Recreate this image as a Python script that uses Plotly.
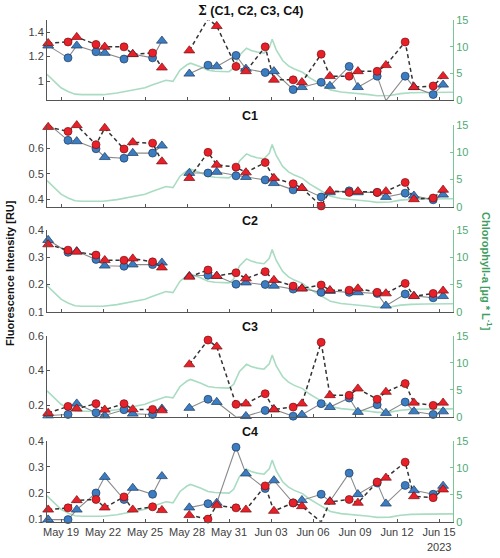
import plotly.graph_objects as go

# ---------------- data ----------------
sample_times = [
    "2023-05-18 02:00", "2023-05-19 12:00", "2023-05-20 03:00", "2023-05-21 12:00",
    "2023-05-22 03:00", "2023-05-23 12:00", "2023-05-24 03:00", "2023-05-25 13:00",
    "2023-05-26 05:00",
    "2023-05-28 04:00", "2023-05-29 12:00", "2023-05-30 03:00", "2023-05-31 12:00",
    "2023-06-01 05:00", "2023-06-02 14:00", "2023-06-03 05:00", "2023-06-04 14:00",
    "2023-06-05 05:00", "2023-06-06 14:00", "2023-06-07 05:00", "2023-06-08 14:00",
    "2023-06-09 05:00", "2023-06-10 14:00", "2023-06-11 05:00", "2023-06-12 14:00",
    "2023-06-13 05:00", "2023-06-14 14:00", "2023-06-15 07:00",
]
# T = triangle sample, C = circle sample
sample_type = ["T", "C", "T", "C", "T", "C", "T", "C", "T",
               "T", "C", "T", "C", "T", "C", "T", "C", "T", "C",
               "T", "C", "T", "C", "T", "C", "T", "C", "T"]
gap_after = 8  # no line between sample 8 and 9

titles = ["<span style='font-family:DejaVu Serif, Liberation Serif, serif'>\u03a3</span> (C1, C2, C3, C4)",
          "C1", "C2", "C3", "C4"]

red_sum = [1.31, 1.32, 1.36, 1.30, 1.28, 1.28, 1.22, 1.23, 1.11,
           1.25, 1.51, 1.45, 1.12, 1.08, 1.28, 1.01, 1.01, 0.99, 1.22,
           1.04, 1.04, 1.08, 1.08, 1.13, 1.32, 0.95, 0.96, 1.04]
blue_sum = [1.29, 1.19, 1.29, 1.24, 1.23, 1.18, 1.22, 1.19, 1.33,
            1.06, 1.13, 1.12, 1.21, 1.10, 1.07, 1.08, 0.93, 0.95, 0.99,
            0.96, 1.12, 0.95, 1.04, 0.84, 1.04, 0.95, 0.89, 0.97]

red_c1 = [0.683, 0.666, 0.690, 0.614, 0.679, 0.597, 0.623, 0.620, 0.548,
          0.483, 0.584, 0.535, 0.526, 0.505, 0.544, 0.483, 0.461, 0.444, 0.374,
          0.433, 0.427, 0.431, 0.427, 0.431, 0.466, 0.400, 0.405, 0.437]
blue_c1 = [0.696, 0.631, 0.627, 0.598, 0.565, 0.561, 0.581, 0.581, 0.610,
           0.503, 0.503, 0.507, 0.492, 0.487, 0.476, 0.463, 0.437, 0.444, 0.409,
           0.427, 0.433, 0.427, 0.427, 0.409, 0.424, 0.414, 0.398, 0.418]

red_c2 = [0.347, 0.326, 0.320, 0.308, 0.289, 0.289, 0.295, 0.283, 0.262,
          0.228, 0.253, 0.231, 0.243, 0.222, 0.247, 0.216, 0.194, 0.185, 0.198,
          0.179, 0.179, 0.185, 0.171, 0.167, 0.204, 0.157, 0.167, 0.177]
blue_c2 = [0.363, 0.318, 0.322, 0.292, 0.269, 0.267, 0.273, 0.273, 0.280,
           0.231, 0.234, 0.231, 0.201, 0.207, 0.200, 0.195, 0.183, 0.185, 0.171,
           0.176, 0.171, 0.171, 0.167, 0.122, 0.165, 0.158, 0.151, 0.157]

red_c3 = [0.156, 0.194, 0.181, 0.210, 0.175, 0.210, 0.177, 0.177, 0.171,
          0.435, 0.575, 0.537, 0.206, 0.210, 0.267, 0.177, 0.190, 0.210, 0.562,
          0.258, 0.258, 0.296, 0.235, 0.277, 0.325, 0.215, 0.200, 0.215]
blue_c3 = [0.142, 0.148, 0.210, 0.158, 0.142, 0.175, 0.152, 0.148, 0.181,
           0.185, 0.235, 0.219, 0.133, 0.138, 0.171, 0.177, 0.138, 0.146, 0.210,
           0.190, 0.242, 0.162, 0.204, 0.156, 0.219, 0.165, 0.148, 0.165]

red_c4 = [0.136, 0.143, 0.172, 0.175, 0.144, 0.185, 0.136, 0.147, 0.134,
          0.115, 0.100, 0.153, 0.143, 0.136, 0.227, 0.131, 0.162, 0.149, 0.089,
          0.166, 0.175, 0.162, 0.242, 0.258, 0.318, 0.187, 0.182, 0.213]
blue_c4 = [0.098, 0.098, 0.136, 0.200, 0.261, 0.175, 0.219, 0.195, 0.264,
           0.144, 0.159, 0.162, 0.375, 0.274, 0.217, 0.248, 0.162, 0.172, 0.195,
           0.168, 0.276, 0.195, 0.238, 0.159, 0.229, 0.210, 0.195, 0.227]

red_series = [red_sum, red_c1, red_c2, red_c3, red_c4]
blue_series = [blue_sum, blue_c1, blue_c2, blue_c3, blue_c4]

chl_times = [
    "2023-05-18 00:00", "2023-05-18 12:00", "2023-05-19 00:00", "2023-05-19 12:00",
    "2023-05-20 00:00", "2023-05-20 12:00", "2023-05-21 00:00", "2023-05-22 00:00",
    "2023-05-23 00:00", "2023-05-24 00:00", "2023-05-25 00:00", "2023-05-25 12:00",
    "2023-05-26 00:00", "2023-05-26 12:00", "2023-05-27 00:00", "2023-05-27 12:00",
    "2023-05-28 00:00", "2023-05-28 06:00", "2023-05-29 00:00", "2023-05-29 12:00",
    "2023-05-30 00:00", "2023-05-30 12:00", "2023-05-31 00:00", "2023-05-31 08:00",
    "2023-05-31 18:00", "2023-06-01 06:00", "2023-06-01 14:00", "2023-06-02 00:00",
    "2023-06-02 12:00", "2023-06-02 21:00", "2023-06-03 02:00", "2023-06-03 09:00",
    "2023-06-03 20:00", "2023-06-04 06:00", "2023-06-04 16:00", "2023-06-05 06:00",
    "2023-06-05 18:00", "2023-06-06 08:00", "2023-06-06 20:00", "2023-06-07 06:00",
    "2023-06-08 00:00", "2023-06-09 00:00", "2023-06-10 00:00", "2023-06-10 14:00",
    "2023-06-11 12:00", "2023-06-12 06:00", "2023-06-13 00:00", "2023-06-14 00:00",
    "2023-06-15 00:00", "2023-06-16 00:00",
]
chl_values = [
    4.8, 3.5, 2.3, 1.6,
    1.1, 1.0, 1.0, 1.0,
    1.3, 1.8, 2.3, 2.8,
    3.2, 3.7, 3.5, 5.6,
    6.6, 6.9, 6.2, 5.6,
    5.4, 5.3, 5.3, 6.0,
    8.4, 9.7, 9.3, 9.0,
    8.8, 9.8, 11.4, 9.4,
    7.4, 6.4, 5.8, 5.2,
    4.2, 3.3, 2.5, 1.9,
    1.5, 1.3, 1.0, 0.8,
    0.85, 1.2, 1.35, 1.4,
    1.45, 1.45,
]

flu_ranges = [[0.845, 1.5], [0.371, 0.691], [0.1, 0.4], [0.135, 0.6], [0.09, 0.4]]
flu_ticks = [[1, 1.2, 1.4], [0.4, 0.5, 0.6], [0.1, 0.2, 0.3, 0.4], [0.2, 0.4, 0.6],
             [0.1, 0.2, 0.3, 0.4]]
flu_ticktext = [["1", "1.2", "1.4"], ["0.4", "0.5", "0.6"], ["0.1", "0.2", "0.3", "0.4"],
                ["0.2", "0.4", "0.6"], ["0.1", "0.2", "0.3", "0.4"]]
chl_ticks = [0, 5, 10, 15]
x_ticks = ["2023-05-19", "2023-05-22", "2023-05-25", "2023-05-28", "2023-05-31",
           "2023-06-03", "2023-06-06", "2023-06-09", "2023-06-12", "2023-06-15"]
x_range = ["2023-05-18 00:00", "2023-06-16 00:00"]

# ---------------- styling ----------------
FONT = "Liberation Sans, Arial, sans-serif"
TXT = "#404040"
AX = "#555555"
GREEN_LINE = "#a9dcc2"
GREEN_AX = "#7cc49a"
GREEN_TXT = "#4faa72"
RED = "#e8202a"
RED_EDGE = "#7a1010"
BLUE = "#3b7dc0"
BLUE_EDGE = "#1c3a60"

W, H = 500, 558
ML, MR, MT, MB = 47, 47, 20, 36
plot_h = H - MT - MB
panel_px = [(20, 100), (125, 206.7), (230, 311.7), (335.7, 416.7), (440.7, 521.7)]


def dom(top, bot):
    b = H - MB
    return [max(0.0, (b - bot) / plot_h), min(1.0, (b - top) / plot_h)]


def ax_name(kind, i):
    return kind if i == 1 else f"{kind}{i}"


def with_gap(vals):
    out = list(vals[:gap_after + 1]) + [None] + list(vals[gap_after + 1:])
    return out


gap_time = "2023-05-27 00:00"
line_times = sample_times[:gap_after + 1] + [gap_time] + sample_times[gap_after + 1:]

fig = go.Figure()
layout = {}
annotations = []

for p in range(5):
    xi = p + 1
    yc = 2 * p + 1  # chlorophyll axis (primary, right side)
    yf = 2 * p + 2  # fluorescence axis (overlaying, left side)
    xa, yca, yfa = ax_name("x", xi), ax_name("y", yc), ax_name("y", yf)

    # chlorophyll line
    fig.add_trace(go.Scatter(x=chl_times, y=chl_values, mode="lines",
                             line=dict(color=GREEN_LINE, width=1.6),
                             xaxis=xa, yaxis=yca, showlegend=False, hoverinfo="skip"))

    red = red_series[p]
    blue = blue_series[p]
    # connecting lines
    fig.add_trace(go.Scatter(x=line_times, y=with_gap(blue), mode="lines",
                             line=dict(color="#8a8a8a", width=1.1),
                             connectgaps=False, xaxis=xa, yaxis=yfa, showlegend=False,
                             cliponaxis=False))
    fig.add_trace(go.Scatter(x=line_times, y=with_gap(red), mode="lines",
                             line=dict(color="#333333", width=1.5, dash="4px,3px"),
                             connectgaps=False, xaxis=xa, yaxis=yfa, showlegend=False,
                             cliponaxis=False))
    # markers
    for vals, col, edge in [(blue, BLUE, BLUE_EDGE), (red, RED, RED_EDGE)]:
        for shape, sym, size in [("C", "circle", 8), ("T", "triangle-up", 9.5)]:
            xs = [t for t, s in zip(sample_times, sample_type) if s == shape]
            ys = [v for v, s in zip(vals, sample_type) if s == shape]
            fig.add_trace(go.Scatter(x=xs, y=ys, mode="markers",
                                     marker=dict(symbol=sym, size=size, color=col,
                                                 line=dict(color=edge, width=0.7)),
                                     xaxis=xa, yaxis=yfa, showlegend=False,
                                     cliponaxis=False))

    d = dom(*panel_px[p])
    layout["xaxis" if xi == 1 else f"xaxis{xi}"] = dict(
        domain=[0, 1], anchor=yca, range=x_range, type="date",
        tickvals=x_ticks, tickformat="%b %d", showticklabels=(p == 4),
        ticks="inside", ticklen=3, tickcolor=AX, showline=True, linecolor=AX,
        linewidth=1, showgrid=False, zeroline=False,
        tickfont=dict(family=FONT, size=11, color=TXT),
        matches=None if xi == 1 else "x",
    )
    layout["yaxis" if yc == 1 else f"yaxis{yc}"] = dict(
        domain=d, anchor=xa, side="right", range=[0, 15], tickvals=chl_ticks,
        ticks="inside", ticklen=3, tickcolor=GREEN_AX, showline=True,
        linecolor=GREEN_AX, linewidth=1, showgrid=False, zeroline=False,
        tickfont=dict(family=FONT, size=11, color=GREEN_TXT),
    )
    layout[f"yaxis{yf}"] = dict(
        domain=d, anchor=xa, overlaying=yca, side="left", range=flu_ranges[p],
        tickvals=flu_ticks[p], ticktext=flu_ticktext[p], ticks="inside", ticklen=3,
        tickcolor=AX, showline=True, linecolor=AX, linewidth=1, showgrid=False,
        zeroline=False, tickfont=dict(family=FONT, size=11, color=TXT),
    )
    annotations.append(dict(text=f"<b>{titles[p]}</b>", xref="paper", yref="paper",
                            x=0.5, y=d[1], xanchor="center", yanchor="bottom",
                            yshift=0, showarrow=False,
                            font=dict(family=FONT, size=12.5, color="#111111")))

annotations.append(dict(text="2023", xref="x5", yref="paper", x="2023-06-15", y=0,
                        xanchor="center", yanchor="top", yshift=-17, showarrow=False,
                        font=dict(family=FONT, size=11, color=TXT)))
annotations.append(dict(text="<b>Fluorescence Intensity [RU]</b>", xref="paper",
                        yref="paper", x=(10 - ML) / (W - ML - MR), y=(H - MB - 273) / plot_h,
                        xanchor="center", yanchor="middle", textangle=-90,
                        showarrow=False, font=dict(family=FONT, size=11, color="#111111")))
annotations.append(dict(text="<b>Chlorophyll-a [\u00b5g * L<sup>-1</sup>]</b>",
                        xref="paper", yref="paper", x=(487 - ML) / (W - ML - MR),
                        y=(H - MB - 271) / plot_h, xanchor="center", yanchor="middle",
                        textangle=90, showarrow=False,
                        font=dict(family=FONT, size=11, color="#3e9e5e")))

fig.update_layout(**layout)
fig.update_layout(width=W, height=H, margin=dict(l=ML, r=MR, t=MT, b=MB),
                  paper_bgcolor="white", plot_bgcolor="white", showlegend=False,
                  annotations=annotations, font=dict(family=FONT))

fig.write_html("out.html", config={"displayModeBar": False},
               post_script="document.body.style.margin='0';document.body.style.padding='0';")
